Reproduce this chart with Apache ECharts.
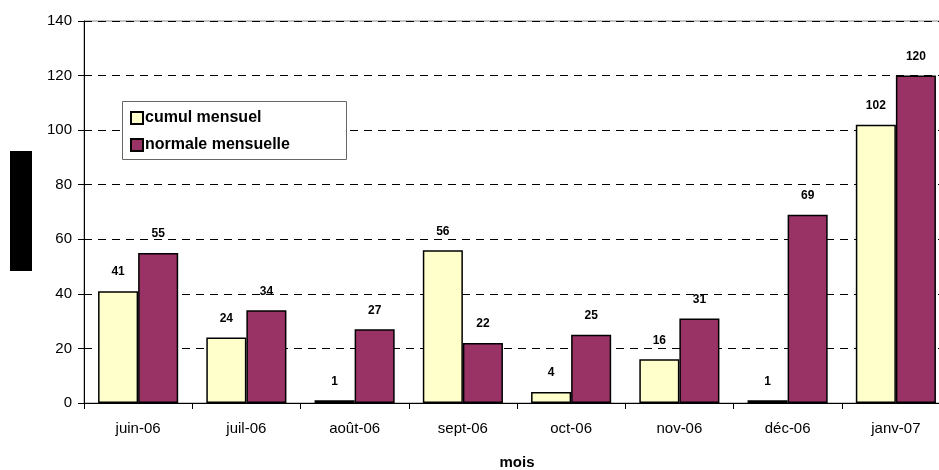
<!DOCTYPE html>
<html>
<head>
<meta charset="utf-8">
<script src="https://cdn.jsdelivr.net/npm/echarts@6/dist/echarts.min.js"></script>
<style>
    html, body { margin: 0; padding: 0; background: #fff; }
    #chart { width: 939px; height: 470px; }
</style>
</head>
<body>
<div id="chart"></div>
<script>
    var months = ["juin-06", "juil-06", "août-06", "sept-06", "oct-06", "nov-06", "déc-06", "janv-07"];
    var cumulMensuel = [41, 24, 1, 56, 4, 16, 1, 102];
    var normaleMensuelle = [55, 34, 27, 22, 25, 31, 69, 120];
    var yTicks = [0, 20, 40, 60, 80, 100, 120, 140];

    var font = "'Liberation Sans', Arial, sans-serif";

    var barLabel = {
        show: true,
        position: 'top',
        distance: 13,
        color: '#000',
        fontWeight: 'bold',
        fontSize: 12,
        fontFamily: font
    };

    var chart = echarts.init(document.getElementById("chart"));
    chart.setOption({
        backgroundColor: '#fff',
        animation: false,
        textStyle: { fontFamily: font },
        grid: {
            left: 84,
            width: 866,
            top: 21,
            bottom: 67,
            outerBoundsMode: 'none',
            containLabel: false,
            show: true,
            borderColor: '#888',
            borderWidth: 1
        },
        legend: {
            orient: 'vertical',
            left: 122,
            top: 102,
            icon: 'rect',
            itemWidth: 12,
            itemHeight: 12,
            itemGap: 11,
            padding: [8, 8, 8, 8],
            z: 5,
            textStyle: { fontSize: 16, fontWeight: 'bold', color: '#000', fontFamily: font, padding: [0, 0, 0, -3] },
            data: ['cumul mensuel', 'normale mensuelle']
        },
        xAxis: {
            type: 'category',
            data: months,
            name: 'mois',
            nameLocation: 'middle',
            nameGap: 52,
            nameTextStyle: { fontSize: 15, fontWeight: 'bold', color: '#000', fontFamily: font },
            axisLine: { lineStyle: { color: '#000', width: 1 } },
            axisTick: { show: true, length: 6, lineStyle: { color: '#000' } },
            axisLabel: { color: '#000', fontSize: 15, margin: 18, fontFamily: font }
        },
        yAxis: {
            type: 'value',
            min: yTicks[0],
            max: yTicks[yTicks.length - 1],
            interval: 20,
            axisLine: { show: true, lineStyle: { color: '#000', width: 1 } },
            axisTick: { show: true, length: 6, lineStyle: { color: '#000' } },
            axisLabel: { color: '#000', fontSize: 15, margin: 12, fontFamily: font },
            splitLine: { show: true, lineStyle: { color: '#000', type: [8, 6], width: 1 } }
        },
        series: [{
            name: 'cumul mensuel',
            type: 'bar',
            barGap: '0%',
            barCategoryGap: '26%',
            data: cumulMensuel,
            itemStyle: { color: '#FFFFCC', borderColor: '#000', borderWidth: 1.5 },
            label: barLabel
        }, {
            name: 'normale mensuelle',
            type: 'bar',
            data: normaleMensuelle,
            itemStyle: { color: '#993366', borderColor: '#000', borderWidth: 1.5 },
            label: barLabel
        }],
        graphic: [{
            type: 'rect',
            left: 10,
            top: 151,
            shape: { width: 22, height: 120 },
            style: { fill: '#000' }
        }, {
            // legend frame
            type: 'rect',
            left: 122,
            top: 101,
            z: 4,
            shape: { width: 224, height: 58 },
            style: { fill: '#fff', stroke: '#666', lineWidth: 1 }
        }]
    });
</script>
</body>
</html>
